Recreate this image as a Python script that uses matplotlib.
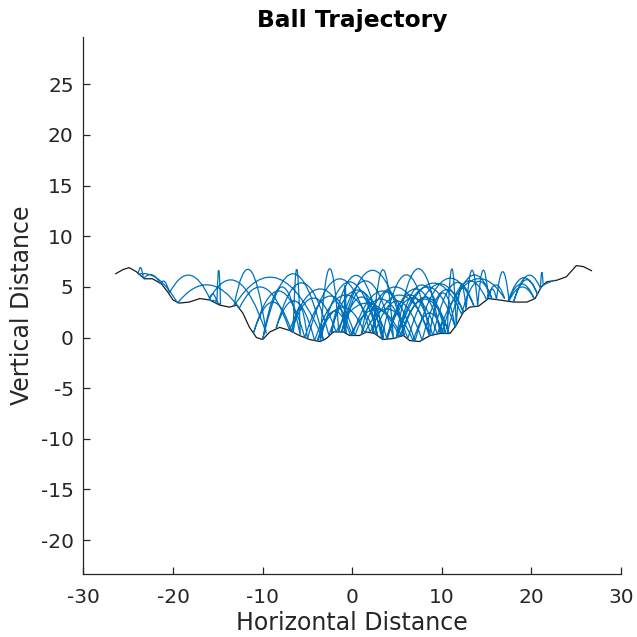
import numpy as np
import matplotlib
matplotlib.use("Agg")
import matplotlib.pyplot as plt
from matplotlib.path import Path
from matplotlib.patches import PathPatch

# Terrain profile
terrain_x = [-26.4, -25.6, -24.9, -24.1, -23.2, -22.3, -21.3, -20.6, -20.0, -19.3, -18.2, -17.0,
             -15.9, -14.8, -13.7, -12.9, -12.2, -11.5, -10.7, -10.0, -9.2, -8.1, -7.0,
             -5.9, -4.75, -3.6, -2.9, -2.1, -1.0, -0.3, 0.8, 1.6, 2.5, 3.4, 4.6, 5.7,
             6.4, 7.5, 8.7, 9.8, 10.9, 11.6, 12.4, 13.1, 14.1, 15.2, 16.5, 18.0, 19.5,
             20.4, 21.1, 21.7, 22.8, 23.9, 24.5, 25.0, 25.8, 26.7]
terrain_y = [6.3, 6.7, 6.9, 6.5, 5.8, 5.8, 5.3, 4.5, 3.7, 3.4, 3.5, 3.85,
             3.7, 3.2, 3.0, 3.2, 2.4, 1.05, 0.0, -0.2, 0.55, 1.0, 0.7,
             0.2, -0.2, -0.4, -0.1, 0.55, 0.55, 0.2, 0.2, 0.55, 0.4, -0.2, -0.1, 0.2,
             -0.3, -0.4, 0.2, 0.4, 0.4, 1.2, 2.5, 3.0, 3.1, 3.85, 3.7, 3.5, 3.5,
             3.85, 5.0, 5.5, 5.65, 6.0, 6.6, 7.1, 7.0, 6.6]

# Ball trajectory: bounce points and the apex height of each flight between them
bounce_x = [22.6, 21.3, 21.0, 18.0, 20.7, 17.4, 20.3, 17.5, 16.1, 15.2, 14.0, 12.7,
            11.6, 10.6, 15.6, 12.2, 5.0, 10.4, 9.8, 4.9, 11.5, 8.6, 1.0, 3.5,
            -1.2, 5.8, 2.3, 4.6, -1.5, -3.6, 2.8, -0.9, -0.7, -2.3, 3.3, 8.7,
            2.0, -5.0, -6.6, -5.8, -10.0, -3.2, -13.2, -9.6, -16.0, -15.1, -14.7,
            -15.8, -20.4, -21.4, -23.3, -23.9, -19.5, -12.6, -7.0, 0.0, 7.0, 13.6,
            9.0, 3.8, 9.5, 17.0, 15.0, 10.0, 3.9, -2.6, -8.5, -4.2, 2.5, 7.8,
            12.4, 6.2, 0.3, -5.3, -11.0, -6.8, -1.8, 5.3, 10.8, 5.5, -0.2, -3.9,
            1.4, 6.8, 10.2]
bounce_y = [5.65, 5.15, 4.85, 3.5, 4.2, 3.6, 3.85, 3.6, 3.75, 3.85, 3.1, 2.7,
            1.2, 0.4, 3.8, 2.3, 0.0, 0.4, 0.4, -0.05, 1.0, 0.15, 0.25, -0.2,
            0.5, 0.2, 0.45, -0.1, 0.55, -0.4, 0.3, 0.5, 0.45, 0.45, -0.15, 0.2,
            0.5, -0.15, 0.45, 0.2, -0.2, -0.3, 3.1, 0.4, 3.7, 3.5, 3.2,
            3.65, 4.4, 5.3, 5.8, 6.25, 3.4, 2.9, 0.7, 0.2, -0.35, 3.05,
            0.15, -0.2, 0.35, 3.85, 3.7, 0.4, -0.2, 0.2, 0.9, -0.3, 0.4, -0.3,
            2.5, -0.1, 0.2, 0.0, 0.5, 0.65, 0.55, 0.1, 0.4, 0.15, 0.2, -0.35,
            0.45, -0.35, 0.4]
apex_y = [5.45, 6.5, 6.1, 5.7, 5.9, 5.3, 5.0, 6.5, 4.8, 6.65, 6.65,
          5.2, 6.8, 6.0, 5.5, 5.3, 5.2, 1.5, 6.8, 5.0, 4.4, 5.0, 3.5,
          4.0, 6.65, 4.6, 6.7, 5.6, 6.8, 5.5, 4.6, 6.65, 3.0, 6.15, 6.2,
          4.2, 5.8, 3.0, 6.8, 5.0, 6.3, 5.8, 6.65, 5.5, 4.3, 6.8,
          3.6, 6.15, 5.5, 6.2, 6.9, 5.8, 5.2, 4.9, 4.8, 4.6, 5.7,
          5.3, 4.2, 3.9, 5.6, 5.2, 5.4, 4.8, 4.7, 5.4, 3.6, 4.2, 3.6,
          4.6, 5.2, 3.8, 4.1, 4.6, 3.5, 3.9, 3.4, 3.8, 4.0, 2.8, 2.6,
          3.0, 2.8, 2.4]

x_ticks = [-30, -20, -10, 0, 10, 20, 30]
y_ticks = [-20, -15, -10, -5, 0, 5, 10, 15, 20, 25]

plt.rcParams['font.family'] = ['DejaVu Sans']
plt.rcParams['axes.unicode_minus'] = False
fig = plt.figure(figsize=(6.37, 6.37), dpi=100)
ax = fig.add_axes([0.131, 0.0984, 0.844, 0.8435])

ax.plot(terrain_x, terrain_y, color='#1a1a1a', lw=0.9, zorder=2)

verts = [(bounce_x[0], bounce_y[0])]
codes = [Path.MOVETO]
for i in range(len(apex_y)):
    x0, y0 = bounce_x[i], bounce_y[i]
    x1, y1 = bounce_x[i + 1], bounce_y[i + 1]
    cy = 2 * apex_y[i] - (y0 + y1) / 2
    verts += [((x0 + x1) / 2, cy), (x1, y1)]
    codes += [Path.CURVE3, Path.CURVE3]
ax.add_patch(PathPatch(Path(verts, codes), fill=False, edgecolor='#0072BD', lw=0.9, zorder=3))

ax.set_xlim(-30, 30)
ax.set_ylim(-23.38, 29.67)
ax.set_xticks(x_ticks)
ax.set_yticks(y_ticks)
for s in ['top', 'right']:
    ax.spines[s].set_visible(False)
for s in ['left', 'bottom']:
    ax.spines[s].set_color('#262626')
    ax.spines[s].set_linewidth(0.9)
ax.tick_params(direction='in', length=5, width=0.9, colors='#262626', labelsize=14.5)
ax.tick_params(axis='x', pad=10)
ax.tick_params(axis='y', pad=7)
ax.set_xlabel('Horizontal Distance', fontsize=17, color='#262626', labelpad=3)
ax.set_ylabel('Vertical Distance', fontsize=17, color='#262626', labelpad=5)
ax.set_title('Ball Trajectory', fontsize=16.8, fontweight='bold', color='black', pad=7)

fig.savefig('out.png', dpi=100)
